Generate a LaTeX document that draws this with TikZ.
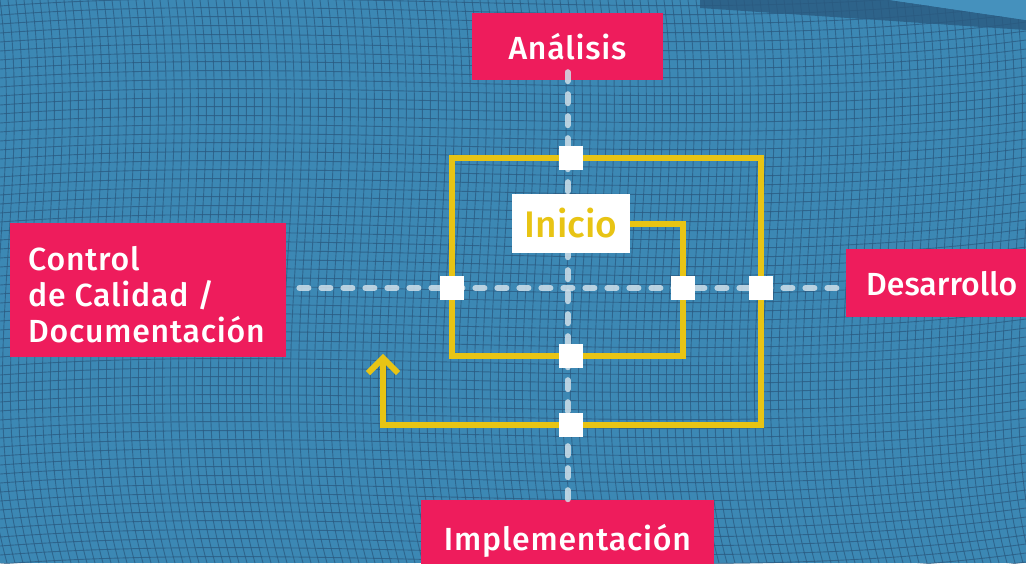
\documentclass[tikz,border=0pt]{standalone}
\usepackage{fontspec}
\setmainfont{Fira Sans}[UprightFont={* Medium},BoldFont={* SemiBold},LetterSpace=2.5]
\newfontfamily\plainlabel{Fira Sans}[UprightFont={* Medium}]
\usetikzlibrary{arrows.meta}
\definecolor{bgblue}{HTML}{3C88B4}
\definecolor{bglight}{HTML}{4591BD}
\definecolor{meshdark}{HTML}{2A5A80}
\definecolor{pinkbox}{HTML}{EE1C5C}
\definecolor{spiralyellow}{HTML}{E8C414}
\definecolor{dashcol}{HTML}{CFE0EA}
\tikzset{
  pinkbox/.style={fill=pinkbox, text=white, inner sep=0pt, font=\fontsize{32}{36}\selectfont},
  labeltext/.style={text=white, inner sep=0pt, font=\fontsize{32}{36}\selectfont, anchor=base west},
  dashline/.style={draw=dashcol, opacity=0.85, line width=6pt, line cap=round, dash pattern=on 9pt off 13pt},
  spiral/.style={draw=spiralyellow, line width=6pt, line join=miter},
  sq/.style={fill=white, minimum size=24pt, inner sep=0pt},
  mesh/.style={draw=meshdark, line width=0.9pt, opacity=0.75}
}
\begin{document}
\begin{tikzpicture}[x=1pt,y=-1pt]
\useasboundingbox (0,0) rectangle (1026,563);
\begin{scope}
\clip (0,0) rectangle (1026,563);
\fill[bgblue] (0,0) rectangle (1026,563);
\foreach \x in {-40,-32,...,1070} {
  \draw[mesh] (\x,0) .. controls (\x+25,190) and (\x-35,380) .. (\x+15,563);
}
\foreach \y in {-30,-21,...,600} {
  \draw[mesh] (0,\y) .. controls (340,\y-25) and (690,\y+25) .. (1026,\y-20);
}
\fill[meshdark, opacity=0.8] (700,0) -- (890,0) -- (1026,20) -- (1026,30) -- (700,8) -- cycle;
\fill[bglight] (890,0) -- (1026,0) -- (1026,20) -- cycle;

% nodes
\coordinate (ctr) at (571,288);
\node[pinkbox, minimum width=191pt, minimum height=67pt] (analisis) at (567.5,46.5) {Análisis};
\node[pinkbox, minimum width=200pt, minimum height=68pt, anchor=west, inner xsep=0pt] (desarrollo) at (846,283) {};
\node[labeltext, font=\plainlabel\fontsize{32}{36}\selectfont] (desarrollotext) at (866,295) {Desarrollo};
\node[pinkbox, minimum width=293pt, minimum height=80pt, anchor=north] (impl) at (567.5,500) {};
\node[labeltext, anchor=base] (impltext) at (567.5,550) {Implementación};
\node[pinkbox, minimum width=276pt, minimum height=134pt, anchor=north west] (control) at (10,223) {};
\node[labeltext] (c1) at (28,270) {Control};
\node[labeltext] (c2) at (28,306) {de Calidad /};
\node[labeltext] (c3) at (28,342) {Documentación};

% dashed axes
\draw[dashline] ([yshift=8pt]analisis.south) -- ([yshift=-8pt]impl.north);
\draw[dashline] ([xshift=13pt]control.east |- ctr) -- ([xshift=-6pt]desarrollo.west |- ctr);

% Inicio
\node[fill=white, minimum width=118pt, minimum height=59pt, inner sep=0pt, text=spiralyellow, font=\plainlabel\fontsize{37}{40}\selectfont] (inicio) at (571,223.5) {Inicio};

% spiral
\coordinate (p1) at (683,224);
\coordinate (p2) at (683,356);
\coordinate (p3) at (452,356);
\coordinate (p4) at (452,158);
\coordinate (p5) at (761,158);
\coordinate (p6) at (761,425);
\coordinate (p7) at (383,425);
\coordinate (p8) at (383,358);
\draw[spiral] (inicio.east |- p1) -- (p1) -- (p2) -- (p3) -- (p4) -- (p5) -- (p6) -- (p7) -- (p8);
\draw[spiral] ([xshift=-15pt,yshift=-15pt]p8) -- (p8) -- ([xshift=15pt,yshift=-15pt]p8);

% squares
\node[sq] (s1) at (571,158) {};
\node[sq] (s2) at (452,288) {};
\node[sq] (s3) at (683,288) {};
\node[sq] (s4) at (761,288) {};
\node[sq] (s5) at (571,356) {};
\node[sq] (s6) at (571,425) {};
\end{scope}
\end{tikzpicture}
\end{document}
